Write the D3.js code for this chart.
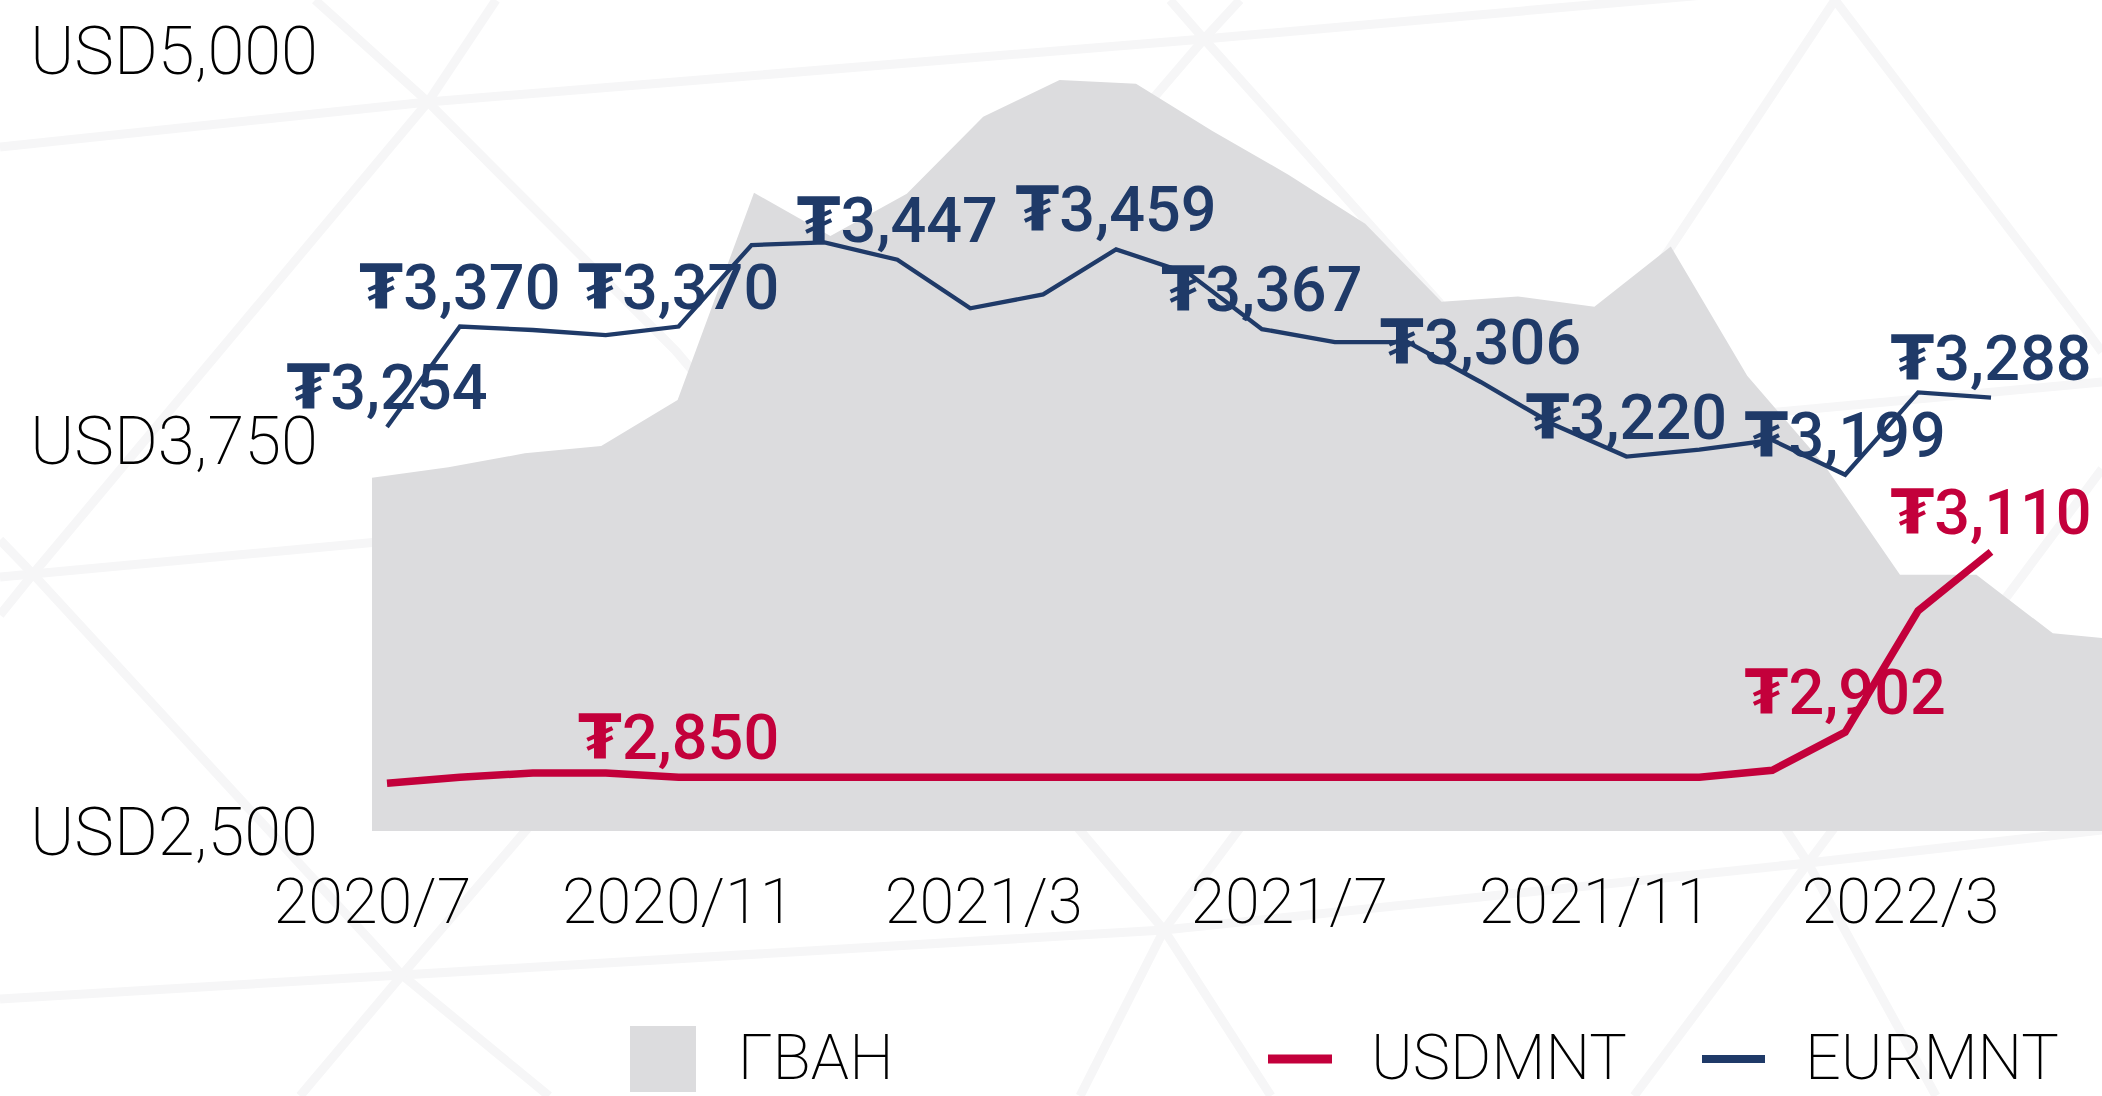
<!DOCTYPE html>
<html>

<head>
    <meta http-equiv="Content-Type" content="text/html; charset=utf-8">
    <title>ГВАН, USDMNT, EURMNT</title>
    <style type="text/css">
        body {
            margin: 0;
            background: #fff;
        }
        svg {
            display: block;
        }
        .axis text {
            font-family: Roboto, "Noto Sans", sans-serif;
            font-weight: 200;
            fill: #000;
        }
        .axis path,
        .axis line {
            display: none;
        }
        .lbl {
            font-family: Roboto, "DejaVu Sans", sans-serif;
            font-weight: 500;
            font-size: 63px;
            text-anchor: middle;
        }
        .legend text {
            font-family: Roboto, "Noto Sans", sans-serif;
            font-weight: 200;
            font-size: 63px;
        }
    </style>
</head>

<body>
    <script src="https://cdn.jsdelivr.net/npm/d3@7"></script>
    <script>
        // months on the category axis (area uses all of them, lines the first 23)
        var months = ["2020/7", "2020/8", "2020/9", "2020/10", "2020/11", "2020/12",
            "2021/1", "2021/2", "2021/3", "2021/4", "2021/5", "2021/6",
            "2021/7", "2021/8", "2021/9", "2021/10", "2021/11", "2021/12",
            "2022/1", "2022/2", "2022/3", "2022/4", "2022/5", "2022/6"];
        var xTicks = ["2020/7", "2020/11", "2021/3", "2021/7", "2021/11", "2022/3"];
        var yTicks = [2500, 3750, 5000];

        // ГВАН, USD mn
        var reserves = [3631, 3664, 3709, 3732, 3880, 4543, 4405, 4540, 4786, 4904, 4892, 4741,
            4600, 4444, 4194, 4211, 4178, 4371, 3957, 3675, 3320, 3320, 3133, 3110];
        // exchange rates, MNT
        var usdmnt = [2843, 2850, 2855, 2855, 2850, 2850, 2850, 2850, 2850, 2850, 2850, 2850,
            2850, 2850, 2850, 2850, 2850, 2850, 2850, 2858, 2902, 3042, 3110];
        var eurmnt = [3254, 3370, 3366, 3360, 3370, 3464, 3467, 3447, 3391, 3407, 3459, 3431,
            3367, 3352, 3352, 3306, 3257, 3220, 3228, 3239, 3199, 3294, 3288];
        // which points carry a value label
        var usdLabels = [4, 20, 22];
        var eurLabels = [0, 1, 4, 7, 10, 12, 15, 17, 20, 22];

        var width = 2102,
            height = 1096;
        var red = "#c3003b",
            blue = "#1f3a68",
            grey = "#dcdcde";

        var svg = d3.select("body").append("svg")
            .attr("width", width)
            .attr("height", height);

        // faint triangle mesh in the background
        var mesh = [
            [[0, 147], [428, 102], [1204, 39], [2102, -40]],
            [[0, 577], [2102, 382]],
            [[0, 999], [402, 975], [1164, 930], [1808, 863], [2102, 830]],
            [[315, 0], [428, 102], [676, 351], [1164, 930], [1271, 1096]],
            [[0, 540], [33, 574], [402, 975], [549, 1096]],
            [[1170, 0], [1204, 39], [1439, 302], [1808, 863], [1936, 1096]],
            [[1835, 0], [2083, 326], [2102, 352]],
            [[496, 0], [428, 102], [33, 574], [0, 615]],
            [[1835, 0], [1667, 253], [1164, 930], [1080, 1096]],
            [[1240, 0], [1204, 39], [402, 975], [300, 1096]],
            [[2102, 469], [1808, 863], [1634, 1096]]
        ];
        svg.append("g").selectAll("path")
            .data(mesh)
            .enter().append("path")
            .attr("d", d3.line())
            .attr("fill", "none")
            .attr("stroke", "#f6f6f7")
            .attr("stroke-width", 9);

        var xArea = d3.scalePoint()
            .domain(months)
            .range([372, 372 + 23 * 76.4]);
        var xLine = d3.scalePoint()
            .domain(months.slice(0, usdmnt.length))
            .range([387, 1991]);
        var y = d3.scaleLinear()
            .domain([2500, 5000])
            .range([831, 50]);
        var y2 = d3.scaleLinear()
            .domain([2788, 3689])
            .range([831, 50]);

        var area = d3.area()
            .x(function (d, i) { return xArea(months[i]); })
            .y0(y(2500))
            .y1(function (d) { return y(d); });
        svg.append("path")
            .datum(reserves)
            .attr("d", area)
            .attr("fill", grey);

        var line = d3.line()
            .x(function (d, i) { return xLine(months[i]); })
            .y(function (d) { return y2(d); });
        svg.append("path")
            .datum(usdmnt)
            .attr("d", line)
            .attr("fill", "none")
            .attr("stroke", red)
            .attr("stroke-width", 7.5);
        svg.append("path")
            .datum(eurmnt)
            .attr("d", line)
            .attr("fill", "none")
            .attr("stroke", blue)
            .attr("stroke-width", 4.3);

        // axes
        var fmt = d3.format(",");
        svg.append("g")
            .attr("class", "axis")
            .attr("transform", "translate(318,0)")
            .call(d3.axisLeft(y).tickValues(yTicks).tickSize(0).tickPadding(0)
                .tickFormat(function (d) { return "USD" + fmt(d); }))
            .selectAll("text")
            .style("font-size", "67px")
            .attr("dy", "0.35em");
        svg.append("g")
            .attr("class", "axis")
            .attr("transform", "translate(0,880)")
            .call(d3.axisBottom(xArea).tickValues(xTicks).tickSize(0).tickPadding(0))
            .selectAll("text")
            .style("font-size", "63px")
            .attr("dy", "0.69em");

        // value labels above the points
        function addLabels(values, idx, color) {
            var t = svg.append("g").selectAll("text")
                .data(idx)
                .enter().append("text")
                .attr("class", "lbl")
                .attr("fill", color)
                .attr("x", function (i) { return xLine(months[i]); })
                .attr("y", function (i) { return y2(values[i]) - 18; });
            t.append("tspan").style("font-weight", 700).text("₮");
            t.append("tspan").text(function (i) { return fmt(values[i]); });
        }
        addLabels(eurmnt, eurLabels, blue);
        addLabels(usdmnt, usdLabels, red);

        // legend
        var legend = svg.append("g").attr("class", "legend");
        legend.append("rect")
            .attr("x", 630).attr("y", 1026)
            .attr("width", 66).attr("height", 66)
            .attr("fill", grey);
        legend.append("text").attr("x", 738).attr("y", 1079).text("ГВАН");
        legend.append("line")
            .attr("x1", 1268).attr("x2", 1332).attr("y1", 1059).attr("y2", 1059)
            .attr("stroke", red).attr("stroke-width", 9);
        legend.append("text").attr("x", 1371).attr("y", 1079).text("USDMNT");
        legend.append("line")
            .attr("x1", 1702).attr("x2", 1765).attr("y1", 1059).attr("y2", 1059)
            .attr("stroke", blue).attr("stroke-width", 8);
        legend.append("text").attr("x", 1805).attr("y", 1079).text("EURMNT");
    </script>
</body>

</html>
